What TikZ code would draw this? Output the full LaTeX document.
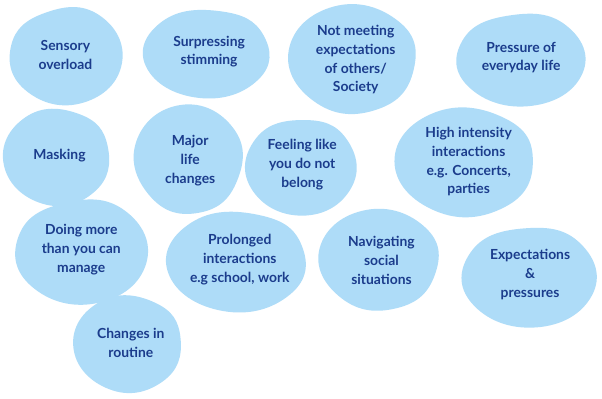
\documentclass[tikz,border=0pt]{standalone}
\usepackage{fontspec}
\setmainfont{Lato}
\usepackage{xcolor}
\definecolor{blobfill}{HTML}{AEDCF8}
\definecolor{blobtext}{HTML}{1B3C8C}
\newcommand{\blob}[6]{%
  \fill[blobfill] plot[smooth cycle, tension=0.8] coordinates {
    ({#2+#4*cos(0+#1)},{#3+#5*0.95*sin(0+#1)})
    ({#2+#4*0.92*cos(60+#1)},{#3+#5*1.03*sin(60+#1)})
    ({#2+#4*1.04*cos(120+#1)},{#3+#5*0.97*sin(120+#1)})
    ({#2+#4*0.96*cos(180+#1)},{#3+#5*1.02*sin(180+#1)})
    ({#2+#4*1.02*cos(240+#1)},{#3+#5*0.9*sin(240+#1)})
    ({#2+#4*0.9*cos(300+#1)},{#3+#5*1.05*sin(300+#1)})};
  \node[label text] at (#2,#3) {#6};}
\begin{document}
\begin{tikzpicture}[x=1pt,y=-1pt,label text/.style={text=blobtext,font=\bfseries\fontsize{14}{19}\selectfont,align=center}]

            \fill[white] (0,0) rectangle (602,402);

            \blob{10}{62}{55}{58}{50}{Sensory\\overload}
            \blob{40}{207}{52}{65}{46}{Surpressing\\stimming}
            \blob{70}{355}{60}{66}{56}{Not meeting\\expectations\\of others/\\Society}
            \blob{20}{522}{58}{66}{48}{Pressure of\\everyday life}
            \blob{50}{56}{157}{55}{50}{Masking}
            \blob{80}{188}{162}{56}{56}{Major\\life\\changes}
            \blob{30}{301}{166}{57}{50}{Feeling like\\you do not\\belong}
            \blob{60}{469}{163}{72}{56}{High intensity\\interactions\\e.g. Concerts,\\parties}
            \blob{15}{78}{252}{68}{54}{Doing more\\than you can\\manage}
            \blob{45}{238}{262}{72}{52}{Prolonged\\interactions\\e.g school, work}
            \blob{75}{381}{263}{62}{52}{Navigating\\social\\situations}
            \blob{25}{531}{277}{69}{52}{Expectations\\\&\\pressures}
            \blob{55}{128}{346}{56}{50}{Changes in\\routine}

        \end{tikzpicture}
\end{document}
